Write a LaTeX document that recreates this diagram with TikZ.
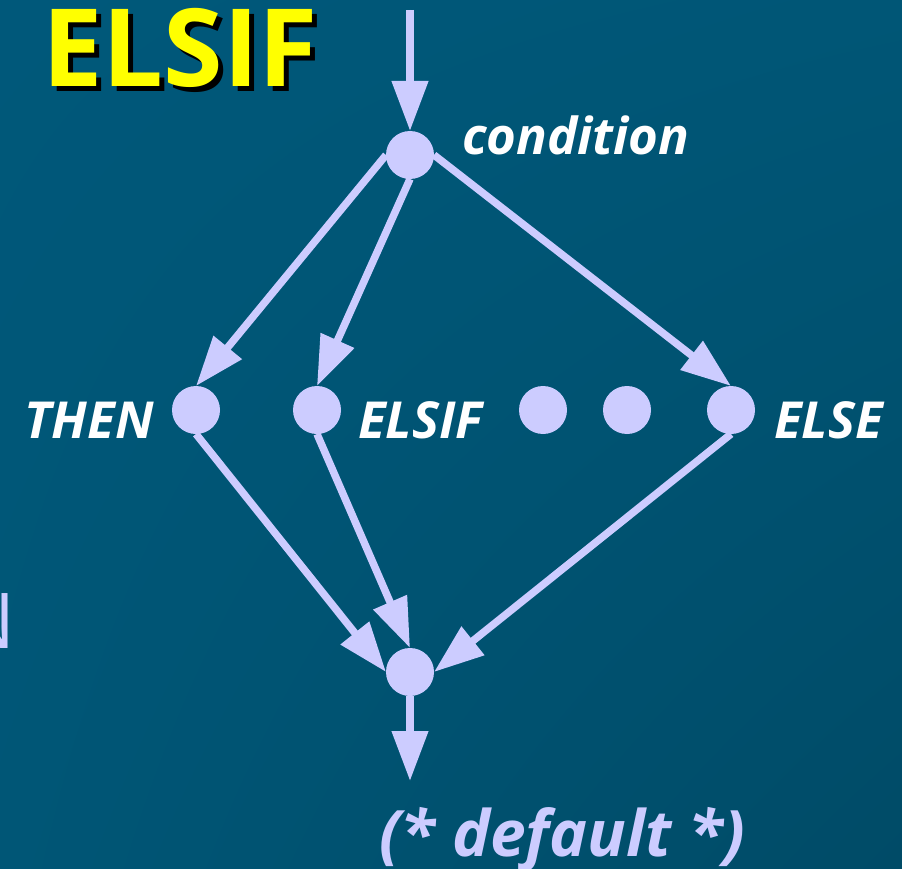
\documentclass[tikz,border=0pt]{standalone}
\usepackage{fontspec}
\setmainfont{Open Sans}
\usetikzlibrary{arrows.meta, shadings}
\definecolor{bgteal}{HTML}{005676}
\definecolor{bgtop}{HTML}{00587A}
\definecolor{bgdeep}{HTML}{004B67}
\definecolor{lav}{HTML}{CCCCFF}
\definecolor{titleyellow}{HTML}{FFFF00}
\tikzset{
  dot/.style={circle, fill=lav, minimum size=48pt, inner sep=0pt, outer sep=0pt},
  flow/.style={draw=lav, line width=7.5pt,
    -{Triangle[length=50pt, width=35pt]}, fill=lav},
  lbl/.style={text=white, inner sep=0pt,
    font=\fontsize{51}{54}\selectfont\bfseries\itshape},
}
\begin{document}
\begin{tikzpicture}[x=1pt, y=-1pt]
  % backdrop with a soft darkening towards the lower right
  \shade[upper left=bgtop, upper right=bgteal, lower left=bgteal,
         lower right=bgdeep] (0,0) rectangle (902,869);
  \useasboundingbox (0,0) rectangle (902,869);

  % title with drop shadow
  \node[anchor=base west, inner sep=0pt, text=black,
        font=\fontsize{108}{110}\selectfont\bfseries] at (47,92) {ELSIF};
  \node[anchor=base west, inner sep=0pt, text=titleyellow,
        font=\fontsize{108}{110}\selectfont\bfseries] (title) at (42,87) {ELSIF};

  % stray letter at the left edge
  \node[anchor=base east, inner sep=0pt, text=lav,
        font=\fontsize{77}{80}\selectfont] (edgeN) at (16,648) {N};

  % branch points
  \node[dot] (cond) at (410,155) {};
  \node[dot] (then) at (196,410) {};
  \node[dot] (elsif) at (317,410) {};
  \node[dot] (more1) at (543,410) {};
  \node[dot] (more2) at (627,410) {};
  \node[dot] (else) at (731,410) {};
  \node[dot] (join) at (410,672) {};
  \coordinate (in) at (410,10);
  \coordinate (out) at (410,781);

  % labels
  \node[lbl, anchor=base west] (condlbl) at (462,155) {condition};
  \node[lbl, anchor=base east] (thenlbl) at (154,438) {THEN};
  \node[lbl, anchor=base west] (elsiflbl) at (358,438) {ELSIF};
  \node[lbl, anchor=base west] (elselbl) at (774,438) {ELSE};
  \node[anchor=base, inner sep=0pt, text=lav,
        font=\fontsize{64}{66}\selectfont\bfseries\itshape] (deflbl)
        at (562,856) {(* default *)};

  % connectors: fan out from the sides of the condition point,
  % and gather into the sides of the join point
  \draw[flow] (in) -- (cond.north);
  \draw[flow] (cond.west) -- (then.north);
  \draw[flow] (cond.south) -- (elsif.north);
  \draw[flow] (cond.east) -- (else.north);
  \draw[flow] (then.south) -- (join.west);
  \draw[flow] (elsif.south) -- (join.north);
  \draw[flow] (else.south) -- (join.east);
  \draw[flow] (join.south) -- (out);
\end{tikzpicture}
\end{document}
